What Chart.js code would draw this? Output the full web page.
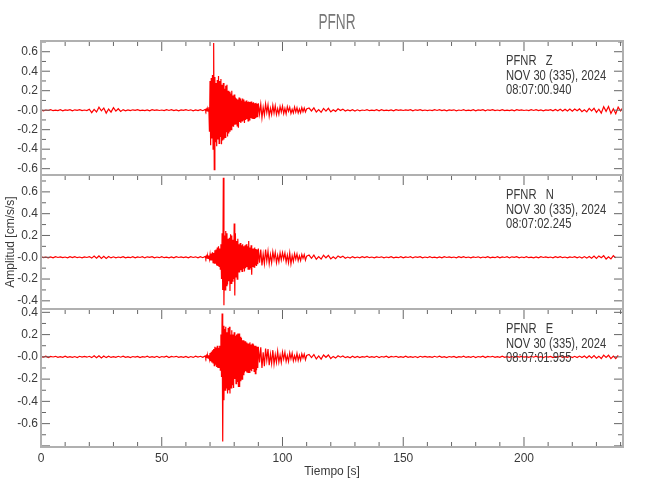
<!DOCTYPE html>
<html>
<head>
<meta charset="utf-8">
<title>PFNR</title>
<script src="https://cdn.jsdelivr.net/npm/chart.js@4.4.1/dist/chart.umd.min.js"></script>
<style>
  html, body { margin: 0; padding: 0; background: #fff; }
  #wrap { width: 650px; height: 500px; }
</style>
</head>
<body>
<div id="wrap"><canvas id="seis" width="650" height="500"></canvas></div>
<script>
const station = 'PFNR';
const components = ['Z', 'N', 'E'];
const dateLine = 'NOV 30 (335), 2024';
const startTimes = ['08:07:00.940', '08:07:02.245', '08:07:01.955'];

const xTicks = [0, 50, 100, 150, 200];
const zTicks = [-0.6, -0.4, -0.2, 0, 0.2, 0.4, 0.6];
const nTicks = [-0.4, -0.2, 0, 0.2, 0.4, 0.6];
const eTicks = [-0.6, -0.4, -0.2, 0, 0.2, 0.4];

// sample times [s]: 1 s before the event, 0.25 s / 0.5 s through it, 1 s after
const preTimes = [
  0, 1, 2, 3, 4, 5, 6, 7, 8, 9, 10, 11, 12, 13, 14, 15, 16, 17, 18, 19,
  20, 21, 22, 23, 24, 25, 26, 27, 28, 29, 30, 31, 32, 33, 34, 35, 36, 37, 38, 39,
  40, 41, 42, 43, 44, 45, 46, 47, 48, 49, 50, 51, 52, 53, 54, 55, 56, 57, 58, 59,
  60, 61, 62, 63, 64, 65, 66, 67
];
const denseTimes = [
  68, 68.25, 68.5, 68.75, 69, 69.25, 69.5, 69.75,
  70, 70.25, 70.5, 70.75, 71, 71.25, 71.5, 71.75,
  72, 72.25, 72.5, 72.75, 73, 73.25, 73.5, 73.75,
  74, 74.25, 74.5, 74.75, 75, 75.25, 75.5, 75.75,
  76, 76.25, 76.5, 76.75, 77, 77.25, 77.5, 77.75,
  78, 78.25, 78.5, 78.75, 79, 79.25, 79.5, 79.75,
  80, 80.25, 80.5, 80.75, 81, 81.25, 81.5, 81.75,
  82, 82.25, 82.5, 82.75, 83, 83.25, 83.5, 83.75,
  84, 84.25, 84.5, 84.75, 85, 85.25, 85.5, 85.75,
  86, 86.25, 86.5, 86.75, 87, 87.25, 87.5, 87.75,
  88, 88.25, 88.5, 88.75, 89, 89.25, 89.5, 89.75
];
const midTimes = [
  90, 90.5, 91, 91.5, 92, 92.5, 93, 93.5, 94, 94.5,
  95, 95.5, 96, 96.5, 97, 97.5, 98, 98.5, 99, 99.5,
  100, 100.5, 101, 101.5, 102, 102.5, 103, 103.5, 104, 104.5,
  105, 105.5, 106, 106.5, 107, 107.5, 108, 108.5, 109, 109.5,
  110
];
const postTimes = [
  111, 112, 113, 114, 115, 116, 117, 118, 119, 120,
  121, 122, 123, 124, 125, 126, 127, 128, 129, 130,
  131, 132, 133, 134, 135, 136, 137, 138, 139, 140,
  141, 142, 143, 144, 145, 146, 147, 148, 149, 150,
  151, 152, 153, 154, 155, 156, 157, 158, 159, 160,
  161, 162, 163, 164, 165, 166, 167, 168, 169, 170,
  171, 172, 173, 174, 175, 176, 177, 178, 179, 180,
  181, 182, 183, 184, 185, 186, 187, 188, 189, 190,
  191, 192, 193, 194, 195, 196, 197, 198, 199, 200,
  201, 202, 203, 204, 205, 206, 207, 208, 209, 210,
  211, 212, 213, 214, 215, 216, 217, 218, 219, 220,
  221, 222, 223, 224, 225, 226, 227, 228, 229, 230,
  231, 232, 233, 234, 235, 236, 237, 238, 239, 240,
  241
];

// Z component [cm/s/s]
const zPre = [
  0.004, -0.006, 0.002, -0.003, 0.006, -0.005, 0.001, -0.004, 0.005, -0.006,
  0.003, -0.002, 0.006, -0.006, 0.004, -0.001, 0.005, -0.005, 0.002, -0.004,
  0.01, -0.025, 0.008, -0.018, 0.03, -0.006, 0.022, -0.03, 0.012, -0.02,
  0.026, -0.01, 0.015, -0.012, 0.006, -0.006, 0.003, -0.005, 0.004, -0.002,
  0.006, -0.004, 0.001, -0.005, 0.003, -0.006, 0.005, -0.002, 0.004, -0.003,
  0.002, -0.005, 0.005, -0.003, 0.006, -0.004, 0.002, -0.006, 0.003, -0.002,
  0.005, -0.003, 0.004, -0.006, 0.002, -0.004, 0.006, -0.005
];
const zDense = [
  0.008, -0.009, 0.01, -0.008, 0.009, -0.011, 0.03, -0.22,
  0.3, -0.36, 0.33, -0.29, 0.36, -0.4, 0.69, -0.61,
  0.34, -0.33, 0.28, -0.37, 0.31, -0.3, 0.35, -0.34,
  0.3, -0.27, 0.32, -0.35, 0.26, -0.31, 0.28, -0.3,
  0.22, -0.28, 0.25, -0.22, 0.26, -0.27, 0.2, -0.24,
  0.19, -0.22, 0.17, -0.2, 0.2, -0.16, 0.15, -0.17,
  0.16, -0.15, 0.13, -0.14, 0.12, -0.16, 0.11, -0.18,
  0.13, -0.12, 0.12, -0.13, 0.1, -0.11, 0.12, -0.1,
  0.11, -0.13, 0.09, -0.1, 0.1, -0.09, 0.085, -0.11,
  0.09, -0.1, 0.085, -0.08, 0.09, -0.085, 0.075, -0.09,
  0.08, -0.085, 0.07, -0.075, 0.075, -0.07, 0.065, -0.072
];
const zMid = [
  0.07, -0.04, 0.062, -0.078, 0.03, -0.05, 0.065, -0.025, 0.055, -0.06,
  0.02, -0.045, 0.05, -0.03, 0.046, -0.044, 0.015, -0.042, 0.038, -0.02,
  0.042, -0.036, 0.018, -0.038, 0.036, -0.012, 0.03, -0.034, 0.01, -0.028,
  0.032, -0.02, 0.026, -0.029, 0.012, -0.026, 0.027, -0.015, 0.022, -0.018,
  0.012
];
const zPost = [
  0.022, -0.008, 0.024, -0.019, 0.006, -0.022, 0.018, -0.01, 0.019, -0.017,
  0.005, -0.012, 0.014, -0.004, 0.011, -0.008, 0.003, -0.007, 0.006, -0.008,
  0.004, -0.006, 0.002, -0.003, 0.006, -0.005, 0.001, -0.004, 0.005, -0.006,
  0.006, -0.004, 0.001, -0.005, 0.003, -0.006, 0.005, -0.002, 0.004, -0.003,
  0.003, -0.002, 0.006, -0.006, 0.004, -0.001, 0.005, -0.005, 0.002, -0.004,
  0.002, -0.005, 0.005, -0.003, 0.006, -0.004, 0.002, -0.006, 0.003, -0.002,
  0.004, -0.006, 0.002, -0.003, 0.006, -0.005, 0.001, -0.004, 0.005, -0.006,
  0.003, -0.002, 0.006, -0.006, 0.004, -0.001, 0.005, -0.005, 0.002, -0.004,
  0.006, -0.004, 0.001, -0.005, 0.003, -0.006, 0.005, -0.002, 0.004, -0.003,
  0.002, -0.005, 0.005, -0.003, 0.006, -0.004, 0.002, -0.006, 0.003, -0.002,
  0.006, -0.007, 0.008, -0.006, 0.009, -0.008, 0.01, -0.009, 0.011, -0.01,
  0.012, -0.006, 0.013, -0.016, 0.004, -0.017, 0.018, -0.008, 0.02, -0.022,
  0.01, -0.03, 0.036, -0.012, 0.038, -0.034, 0.015, -0.036, 0.032, -0.008,
  0.028
];

// N component [cm/s/s]
const nPre = [
  0.006, -0.004, 0.001, -0.005, 0.003, -0.006, 0.005, -0.002, 0.004, -0.003,
  0.002, -0.005, 0.005, -0.003, 0.006, -0.004, 0.002, -0.006, 0.003, -0.002,
  0.006, -0.008, 0.011, -0.009, 0.012, -0.01, 0.009, -0.011, 0.007, -0.006,
  0.004, -0.006, 0.002, -0.003, 0.006, -0.005, 0.001, -0.004, 0.005, -0.006,
  0.003, -0.002, 0.006, -0.006, 0.004, -0.001, 0.005, -0.005, 0.002, -0.004,
  0.006, -0.004, 0.001, -0.005, 0.003, -0.006, 0.005, -0.002, 0.004, -0.003,
  0.003, -0.005, 0.006, -0.002, 0.004, -0.006, 0.005, -0.004
];
const nDense = [
  0.008, -0.009, 0.01, -0.008, 0.012, -0.01, 0.015, -0.018,
  0.025, -0.03, 0.035, -0.03, 0.045, -0.05, 0.04, -0.055,
  0.065, -0.06, 0.07, -0.075, 0.09, -0.08, 0.1, -0.085,
  0.08, -0.11, 0.12, -0.2, 0.22, -0.3, 0.73, -0.44,
  0.2, -0.3, 0.24, -0.26, 0.22, -0.25, 0.17, -0.22,
  0.18, -0.31, 0.21, -0.24, 0.2, -0.22, 0.16, -0.2,
  0.31, -0.35, 0.22, -0.18, 0.15, -0.2, 0.17, -0.14,
  0.12, -0.14, 0.13, -0.12, 0.11, -0.13, 0.12, -0.1,
  0.1, -0.13, 0.11, -0.1, 0.12, -0.09, 0.1, -0.11,
  0.15, -0.11, 0.09, -0.1, 0.11, -0.16, 0.08, -0.09,
  0.08, -0.09, 0.09, -0.07, 0.075, -0.08, 0.07, -0.065
];
const nMid = [
  0.08, -0.05, 0.07, -0.075, 0.03, -0.06, 0.07, -0.035, 0.055, -0.06,
  0.025, -0.05, 0.05, -0.02, 0.045, -0.05, 0.018, -0.042, 0.04, -0.025,
  0.042, -0.015, 0.038, -0.042, 0.02, -0.05, 0.04, -0.06, 0.015, -0.038,
  0.032, -0.018, 0.03, -0.032, 0.012, -0.03, 0.026, -0.01, 0.024, -0.026,
  0.01
];
const nPost = [
  0.02, -0.01, 0.019, -0.018, 0.006, -0.017, 0.018, -0.005, 0.017, -0.015,
  0.004, -0.013, 0.012, -0.003, 0.01, -0.009, 0.002, -0.007, 0.006, -0.005,
  0.002, -0.005, 0.005, -0.003, 0.006, -0.004, 0.002, -0.006, 0.003, -0.002,
  0.004, -0.006, 0.002, -0.003, 0.006, -0.005, 0.001, -0.004, 0.005, -0.006,
  0.003, -0.002, 0.006, -0.006, 0.004, -0.001, 0.005, -0.005, 0.002, -0.004,
  0.006, -0.004, 0.001, -0.005, 0.003, -0.006, 0.005, -0.002, 0.004, -0.003,
  0.002, -0.005, 0.005, -0.003, 0.006, -0.004, 0.002, -0.006, 0.003, -0.002,
  0.004, -0.006, 0.002, -0.003, 0.006, -0.005, 0.001, -0.004, 0.005, -0.006,
  0.003, -0.002, 0.006, -0.006, 0.004, -0.001, 0.005, -0.005, 0.002, -0.004,
  0.006, -0.004, 0.001, -0.005, 0.003, -0.006, 0.005, -0.002, 0.004, -0.003,
  0.002, -0.005, 0.005, -0.003, 0.006, -0.004, 0.002, -0.006, 0.003, -0.002,
  0.005, -0.006, 0.004, -0.007, 0.006, -0.008, 0.007, -0.009, 0.01, -0.011,
  0.012, -0.004, 0.014, -0.016, 0.005, -0.015, 0.014, -0.006, null, null,
  null
];

// E component [cm/s/s]
const ePre = [
  0.003, -0.002, 0.006, -0.006, 0.004, -0.001, 0.005, -0.005, 0.002, -0.004,
  0.006, -0.004, 0.001, -0.005, 0.003, -0.006, 0.005, -0.002, 0.004, -0.003,
  0.005, -0.007, 0.009, -0.008, 0.01, -0.009, 0.008, -0.007, 0.006, -0.005,
  0.002, -0.005, 0.005, -0.003, 0.006, -0.004, 0.002, -0.006, 0.003, -0.002,
  0.004, -0.006, 0.002, -0.003, 0.006, -0.005, 0.001, -0.004, 0.005, -0.006,
  0.003, -0.002, 0.006, -0.006, 0.004, -0.001, 0.005, -0.005, 0.002, -0.004,
  0.004, -0.006, 0.003, -0.005, 0.006, -0.002, 0.005, -0.004
];
const eDense = [
  0.008, -0.009, 0.01, -0.008, 0.011, -0.012, 0.015, -0.02,
  0.035, -0.04, 0.045, -0.05, 0.06, -0.055, 0.07, -0.08,
  0.09, -0.07, 0.085, -0.09, 0.1, -0.1, 0.08, -0.095,
  0.1, -0.12, 0.2, -0.18, 0.39, -0.76, 0.28, -0.39,
  0.25, -0.3, 0.27, -0.28, 0.22, -0.33, 0.26, -0.3,
  0.27, -0.33, 0.2, -0.28, 0.24, -0.25, 0.2, -0.28,
  0.22, -0.2, 0.19, -0.24, 0.2, -0.22, 0.21, -0.27,
  0.21, -0.27, 0.18, -0.22, 0.17, -0.2, 0.15, -0.16,
  0.15, -0.14, 0.14, -0.13, 0.13, -0.14, 0.12, -0.14,
  0.12, -0.14, 0.13, -0.12, 0.11, -0.13, 0.12, -0.11,
  0.11, -0.13, 0.1, -0.15, 0.1, -0.12, 0.09, -0.1
];
const eMid = [
  0.09, -0.05, 0.085, -0.1, 0.04, -0.085, 0.075, -0.03, 0.07, -0.075,
  0.025, -0.06, 0.06, -0.065, 0.02, -0.05, 0.05, -0.048, 0.015, -0.05,
  0.042, -0.02, 0.04, -0.04, 0.012, -0.042, 0.036, -0.018, 0.034, -0.036,
  0.01, -0.03, 0.03, -0.032, 0.014, -0.03, 0.027, -0.01, 0.025, -0.026,
  0.012
];
const ePost = [
  0.022, -0.006, 0.021, -0.019, 0.008, -0.02, 0.017, -0.004, 0.017, -0.015,
  0.004, -0.011, 0.01, -0.003, 0.008, -0.007, 0.002, -0.008, 0.005, -0.006,
  0.004, -0.006, 0.002, -0.003, 0.006, -0.005, 0.001, -0.004, 0.005, -0.006,
  0.003, -0.002, 0.006, -0.006, 0.004, -0.001, 0.005, -0.005, 0.002, -0.004,
  0.006, -0.004, 0.001, -0.005, 0.003, -0.006, 0.005, -0.002, 0.004, -0.003,
  0.002, -0.005, 0.005, -0.003, 0.006, -0.004, 0.002, -0.006, 0.003, -0.002,
  0.004, -0.006, 0.002, -0.003, 0.006, -0.005, 0.001, -0.004, 0.005, -0.006,
  0.003, -0.002, 0.006, -0.006, 0.004, -0.001, 0.005, -0.005, 0.002, -0.004,
  0.006, -0.004, 0.001, -0.005, 0.003, -0.006, 0.005, -0.002, 0.004, -0.003,
  0.002, -0.005, 0.005, -0.003, 0.006, -0.004, 0.002, -0.006, 0.003, -0.002,
  0.004, -0.006, 0.002, -0.003, 0.006, -0.005, 0.001, -0.004, 0.005, -0.006,
  0.005, -0.006, 0.007, -0.006, 0.008, -0.009, 0.01, -0.009, 0.011, -0.012,
  0.006, -0.015, 0.016, -0.005, 0.015, -0.016, 0.006, -0.015, 0.013, null,
  null
];

const FONT = "'Liberation Sans Narrow', 'Liberation Sans', Arial, sans-serif";
const TEXT = '#3a3a3a';

const sampleTimes = preTimes.concat(denseTimes, midTimes, postTimes);
function toPoints(...parts) {
  const amps = [].concat(...parts);
  return sampleTimes.map((t, i) => ({ x: t, y: amps[i] }));
}

function fmtAmp(v) {
  if (Math.abs(v) < 1e-9) return '-0.0';
  return v.toFixed(1);
}

// condensed text, the plot's lettering is a narrow stroke font
function narrowText(ctx, s, x, y, size, squeeze, align) {
  ctx.save();
  ctx.font = size + 'px ' + FONT;
  ctx.textBaseline = 'middle';
  ctx.textAlign = align || 'left';
  ctx.translate(x, y);
  ctx.scale(squeeze, 1);
  ctx.fillText(s, 0, 0);
  ctx.restore();
}

// frame, inward ticks, title and header text of every panel
const seisFrame = {
  id: 'seisFrame',
  afterDatasetsDraw(chart) {
    const { ctx } = chart;
    const xs = chart.scales.x;
    const panels = [chart.scales.yZ, chart.scales.yN, chart.scales.yE];
    const line = (x1, y1, x2, y2) => {
      ctx.beginPath(); ctx.moveTo(x1, y1); ctx.lineTo(x2, y2); ctx.stroke();
    };
    ctx.save();
    ctx.strokeStyle = '#666';
    ctx.lineWidth = 1;
    panels.forEach((ys, i) => {
      for (let t = 0; t <= xs.max; t += 10) {
        const px = xs.getPixelForValue(t);
        const len = t % 50 === 0 ? 10 : 5;
        line(px, ys.top, px, ys.top + len);
        if (i === panels.length - 1) line(px, ys.bottom, px, ys.bottom - len);
      }
      for (let k = Math.ceil(ys.min * 10); k <= Math.floor(ys.max * 10); k++) {
        const py = ys.getPixelForValue(k / 10);
        const len = k % 2 === 0 ? 9 : 5;
        line(xs.left, py, xs.left + len, py);
        line(xs.right, py, xs.right - len, py);
      }
    });
    ctx.strokeStyle = '#b0b0b0';
    ctx.lineWidth = 2;
    panels.forEach(ys => ctx.strokeRect(xs.left, ys.top, xs.right - xs.left, ys.bottom - ys.top));

    ctx.fillStyle = '#777';
    narrowText(ctx, station, (xs.left + xs.right) / 2 + 5, 23, 22, 0.62, 'center');

    ctx.fillStyle = TEXT;
    panels.forEach((ys, i) => {
      const lines = [station + '   ' + components[i], dateLine, startTimes[i]];
      lines.forEach((s, j) => narrowText(ctx, s, xs.right - 117, ys.top + 20.5 + j * 14.5, 14, 0.8));
    });
    ctx.restore();
  }
};

function yAxis(tickList, min, max, weight, stackWeight, title) {
  return {
    type: 'linear',
    position: 'left',
    stack: 'traces',
    stackWeight,
    weight,
    min,
    max,
    afterBuildTicks: s => { s.ticks = tickList.map(value => ({ value })); },
    afterFit: s => { s.width = 41; },
    grid: { display: false, drawTicks: false },
    border: { display: false },
    ticks: {
      autoSkip: false,
      padding: 3,
      color: TEXT,
      font: { family: FONT, size: 12 },
      callback: v => fmtAmp(v)
    },
    title: {
      display: !!title,
      text: title || '',
      color: TEXT,
      font: { family: FONT, size: 12 },
      padding: { top: 3, bottom: 0 }
    }
  };
}

const trace = (data, axis) => ({
  data,
  yAxisID: axis,
  borderColor: '#ff0000',
  borderWidth: 1.2,
  pointRadius: 0,
  tension: 0,
  fill: false,
  spanGaps: false
});

new Chart(document.getElementById('seis'), {
  type: 'line',
  data: {
    datasets: [
      trace(toPoints(zPre, zDense, zMid, zPost), 'yZ'),
      trace(toPoints(nPre, nDense, nMid, nPost), 'yN'),
      trace(toPoints(ePre, eDense, eMid, ePost), 'yE')
    ]
  },
  options: {
    responsive: false,
    animation: false,
    devicePixelRatio: 1,
    layout: { padding: { left: 0, right: 27, top: 41, bottom: 0 } },
    plugins: {
      legend: { display: false },
      tooltip: { enabled: false },
      title: { display: false }
    },
    scales: {
      x: {
        type: 'linear',
        min: 0,
        max: 241,
        afterBuildTicks: s => { s.ticks = xTicks.map(value => ({ value })); },
        afterFit: s => { s.height = 53; },
        grid: { display: false, drawTicks: false },
        border: { display: false },
        ticks: {
          autoSkip: false,
          maxRotation: 0,
          padding: 4,
          color: TEXT,
          font: { family: FONT, size: 12 },
          callback: v => String(v)
        },
        title: {
          display: true,
          text: 'Tiempo [s]',
          color: TEXT,
          font: { family: FONT, size: 12 },
          padding: { top: 0, bottom: 21 }
        }
      },
      yZ: yAxis(zTicks, -0.665, 0.71, 3, 134),
      yN: yAxis(nTicks, -0.475, 0.755, 2, 134, 'Amplitud [cm/s/s]'),
      yE: yAxis(eTicks, -0.81, 0.43, 1, 138)
    }
  },
  plugins: [seisFrame]
});
</script>
</body>
</html>
